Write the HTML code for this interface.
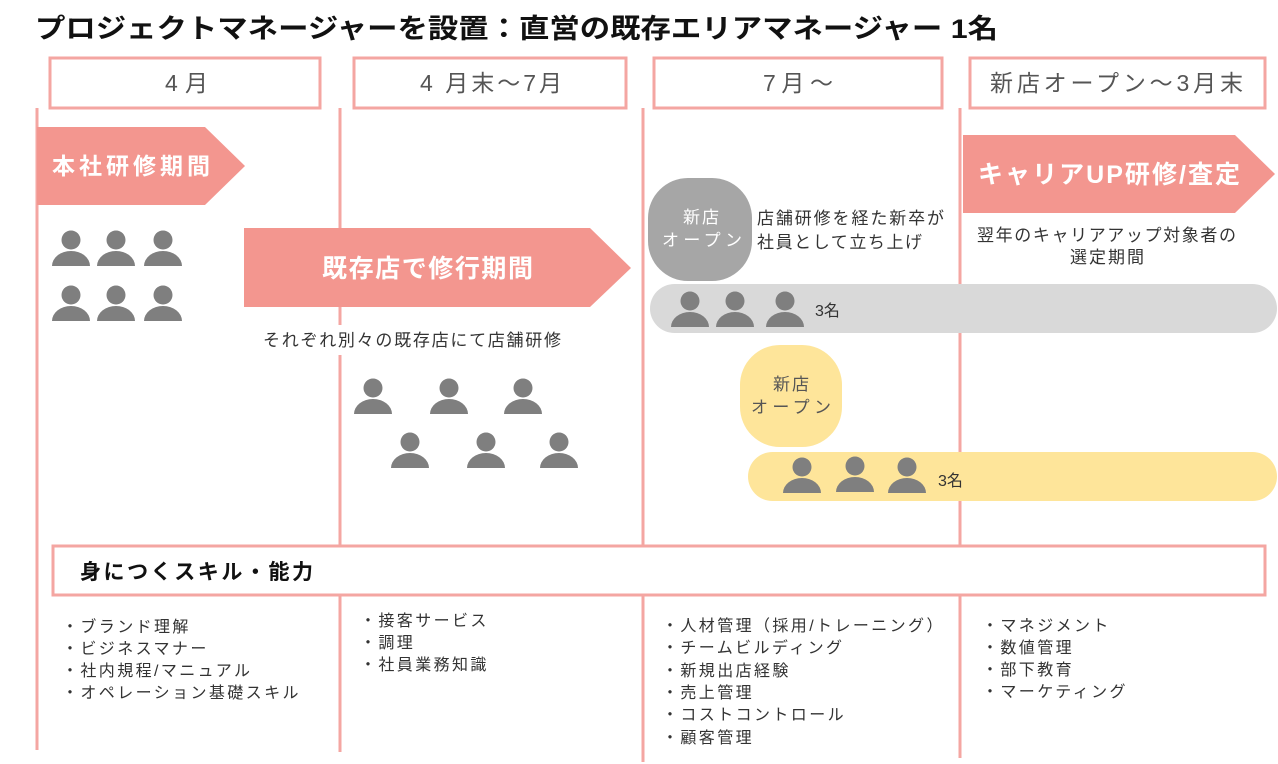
<!DOCTYPE html>
<html><head><meta charset="utf-8">
<style>
html,body{margin:0;padding:0;background:#fff;}
svg{display:block;}
text{font-family:"Liberation Sans","Noto Sans CJK JP",sans-serif;}
.l{letter-spacing:2.4px;}
</style></head><body>
<svg width="1278" height="764" viewBox="0 0 1278 764" xmlns="http://www.w3.org/2000/svg">
<defs>
<g id="p"><circle cx="0" cy="0" r="9.5" fill="#7f7f7f"/><path d="M-19,26 A19,15 0 0 1 19,26 Z" fill="#7f7f7f"/></g>
</defs>
<text x="35" y="38" font-size="27" font-weight="bold" fill="#111" textLength="963" lengthAdjust="spacingAndGlyphs">プロジェクトマネージャーを設置：直営の既存エリアマネージャー 1名</text>
<g stroke="#f4a6a2" stroke-width="3">
<line x1="37" y1="108" x2="37" y2="750"/>
<line x1="340" y1="108" x2="340" y2="752"/>
<line x1="643" y1="108" x2="643" y2="762"/>
<line x1="960" y1="108" x2="960" y2="758"/>
</g>
<g fill="#fff" stroke="#f4a6a2" stroke-width="3">
<rect x="50" y="58" width="270" height="50"/>
<rect x="354" y="58" width="272" height="50"/>
<rect x="654" y="58" width="288" height="50"/>
<rect x="970" y="58" width="295" height="50"/>
</g>
<g font-size="23" fill="#555">
<text x="165" y="91" textLength="43">4 月</text>
<text x="420" y="91" textLength="142">4 月末～7月</text>
<text x="763" y="91" textLength="70">7月～</text>
<text x="990" y="91" textLength="253">新店オープン～3月末</text>
</g>
<path d="M37,127 H205 L245,166 L205,205 H37 Z" fill="#f3968f"/>
<text x="52" y="174" font-size="23" font-weight="bold" fill="#fff" textLength="158">本社研修期間</text>
<path d="M244,228 H590 L631,268 L590,307 H244 Z" fill="#f3968f"/>
<text x="322" y="277" font-size="25" font-weight="bold" fill="#fff" textLength="211">既存店で修行期間</text>
<path d="M963,135 H1235 L1275,174 L1235,213 H963 Z" fill="#f3968f"/>
<text x="978" y="183" font-size="25" font-weight="bold" fill="#fff" textLength="262">キャリアUP研修/査定</text>
<rect x="255" y="325" width="315" height="30" fill="#fff"/>
<text x="263" y="346" font-size="17" fill="#333" textLength="298">それぞれ別々の既存店にて店舗研修</text>
<use href="#p" x="71" y="240"/><use href="#p" x="116" y="240"/><use href="#p" x="163" y="240"/>
<use href="#p" x="71" y="295"/><use href="#p" x="116" y="295"/><use href="#p" x="163" y="295"/>
<use href="#p" x="373" y="388"/><use href="#p" x="449" y="388"/><use href="#p" x="523" y="388"/>
<use href="#p" x="410" y="442"/><use href="#p" x="486" y="442"/><use href="#p" x="559" y="442"/>
<rect x="648" y="178" width="104" height="103" rx="40" fill="#a6a6a6"/>
<text x="683" y="223" font-size="17" fill="#fff" textLength="36">新店</text>
<text x="662" y="246" font-size="17" fill="#fff" textLength="80">オープン</text>
<text x="757" y="224" font-size="17" fill="#333" textLength="187">店舗研修を経た新卒が</text>
<text x="757" y="248" font-size="17" fill="#333" textLength="165">社員として立ち上げ</text>
<text x="977" y="241" font-size="17" fill="#333" textLength="259">翌年のキャリアアップ対象者の</text>
<text x="1070" y="263" font-size="17" fill="#333" textLength="74">選定期間</text>
<rect x="650" y="284" width="627" height="49" rx="24.5" fill="#d9d9d9"/>
<use href="#p" x="690" y="301"/><use href="#p" x="735" y="301"/><use href="#p" x="785" y="301"/>
<text x="815" y="316" font-size="16" fill="#333">3名</text>
<rect x="740" y="345" width="102" height="102" rx="40" fill="#fee59a"/>
<text x="773" y="390" font-size="17" fill="#555" textLength="36">新店</text>
<text x="751" y="413" font-size="17" fill="#555" textLength="80">オープン</text>
<rect x="748" y="452" width="529" height="49" rx="24.5" fill="#fee59a"/>
<use href="#p" x="802" y="467"/><use href="#p" x="855" y="466"/><use href="#p" x="907" y="467"/>
<text x="938" y="486" font-size="16" fill="#333">3名</text>
<rect x="53" y="546" width="1212" height="49" fill="#fff" stroke="#f4a6a2" stroke-width="3"/>
<text x="80" y="579" font-size="21" font-weight="bold" fill="#111" textLength="233">身につくスキル・能力</text>
<g font-size="16" fill="#333" class="l">
<text x="62" y="632">・ブランド理解</text>
<text x="62" y="654">・ビジネスマナー</text>
<text x="62" y="676">・社内規程/マニュアル</text>
<text x="62" y="698">・オペレーション基礎スキル</text>
<text x="360" y="626">・接客サービス</text>
<text x="360" y="648">・調理</text>
<text x="360" y="670">・社員業務知識</text>
<text x="662" y="631">・人材管理（採用/トレーニング）</text>
<text x="662" y="653">・チームビルディング</text>
<text x="662" y="676">・新規出店経験</text>
<text x="662" y="698">・売上管理</text>
<text x="662" y="720">・コストコントロール</text>
<text x="662" y="743">・顧客管理</text>
<text x="982" y="631">・マネジメント</text>
<text x="982" y="653">・数値管理</text>
<text x="982" y="675">・部下教育</text>
<text x="982" y="697">・マーケティング</text>
</g>
</svg>
</body></html>
